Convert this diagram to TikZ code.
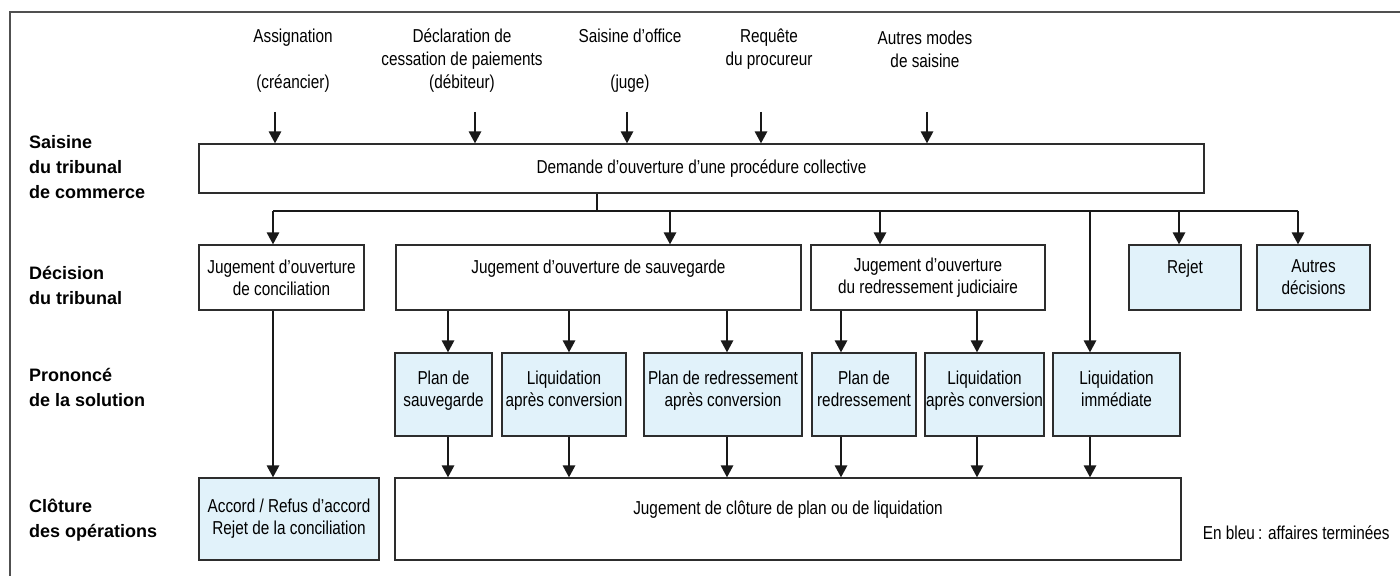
\documentclass[tikz,border=0pt]{standalone}
\usepackage{fontspec}
\setmainfont{Liberation Sans}[FakeStretch=0.82]
\newfontfamily\lblfont{Liberation Sans}
\usetikzlibrary{arrows.meta}
\definecolor{bluefill}{RGB}{225,242,250}
\definecolor{edgecol}{RGB}{45,45,45}
\definecolor{framecol}{RGB}{80,80,80}
\newcommand\lowpad{\rule[-6pt]{0pt}{0pt}}
\begin{document}
\begin{tikzpicture}[x=0.5pt,y=-0.5pt,
  font=\fontsize{9.35pt}{11pt}\selectfont,
  box/.style={draw=edgecol, line width=0.65pt, inner sep=0pt, align=center},
  dim/.style 2 args={minimum width=#1*0.5pt, minimum height=#2*0.5pt},
  bluebox/.style={box, fill=bluefill},
  ln/.style={draw=black!90, line width=0.95pt},
  arr/.style={ln, -{Triangle[width=6.2pt,length=6pt]}},
  rowlbl/.style={anchor=west, align=left, font=\lblfont\bfseries\fontsize{9pt}{12.5pt}\selectfont},
  toplbl/.style={align=center, font=\fontsize{9.35pt}{11.5pt}\selectfont}
]
\useasboundingbox (0,0) rectangle (1400,576);
% frame
\coordinate (fa) at (10,12);
\coordinate (fb) at (1400,12);
\coordinate (fc) at (10,576);
\draw[framecol, line width=1pt] (fc) -- (fa) -- (fb);

% row labels
\node[rowlbl] (l1) at (22,167) {Saisine\\du tribunal\\de commerce};
\node[rowlbl] (l2) at (22,285.5) {Décision\\du tribunal};
\node[rowlbl] (l3) at (22,387.5) {Prononcé\\de la solution};
\node[rowlbl] (l4) at (22,520) {Clôture\\des opérations};

% top labels
\node[toplbl] (s1) at (293,61) {Assignation\\\mbox{}\\(créancier)};
\node[toplbl] (s2) at (462,61) {Déclaration de\\cessation de paiements\\(débiteur)};
\node[toplbl] (s3) at (630,61) {Saisine d’office\\\mbox{}\\(juge)};
\node[toplbl] (s4) at (769,49.5) {Requête\\du procureur};
\node[toplbl] (s5) at (925,49.5) {Autres modes\\de saisine};

% boxes
\node[box, dim={1005}{49}] (dem) at (701.5,168.5) {Demande d’ouverture d’une procédure collective};

\node[box, dim={165}{65}] (concil) at (281.5,277.5) {Jugement d’ouverture\\de conciliation};
\node[box, dim={405}{65}] (sauv) at (598.5,277.5) {Jugement d’ouverture de sauvegarde\\\mbox{}};
\node[box, dim={234}{65}] (redr) at (928,277.5) {Jugement d’ouverture\\du redressement judiciaire};
\node[bluebox, dim={112}{65}] (rejet) at (1185,277.5) {Rejet\\\mbox{}};
\node[bluebox, dim={113}{65}] (autres) at (1313.5,277.5) {Autres\\décisions};

\node[bluebox, dim={97}{83}] (ps) at (443.5,394.5) {Plan de\\sauvegarde\lowpad};
\node[bluebox, dim={124}{83}] (lq1) at (564,394.5) {Liquidation\\après conversion\lowpad};
\node[bluebox, dim={158}{83}] (prac) at (723,394.5) {Plan de redressement\\après conversion\lowpad};
\node[bluebox, dim={104}{83}] (pr) at (864,394.5) {Plan de\\redressement\lowpad};
\node[bluebox, dim={119}{83}] (lq2) at (984.5,394.5) {Liquidation\\après conversion\lowpad};
\node[bluebox, dim={127}{83}] (li) at (1116.5,394.5) {Liquidation\\immédiate\lowpad};

\node[bluebox, dim={180}{82}] (accord) at (289,519) {Accord / Refus d’accord\\Rejet de la conciliation};
\node[box, dim={786}{82}] (clot) at (788,519) {Jugement de clôture de plan ou de liquidation\\\mbox{}};

\node[anchor=east, inner sep=0pt] (legend) at (1390,533) {En bleu\,: affaires terminées};

% arrows from top labels
\coordinate (t1) at (275,112);
\coordinate (t2) at (475,112);
\coordinate (t3) at (627,112);
\coordinate (t4) at (761,112);
\coordinate (t5) at (927,112);
\foreach \t in {t1,t2,t3,t4,t5} \draw[arr] (\t) -- (\t |- dem.north);

% bus
\coordinate (bus) at (597,211);
\coordinate (b1) at (273,211);
\coordinate (b2) at (670,211);
\coordinate (b3) at (880,211);
\coordinate (b4) at (1090,211);
\coordinate (b5) at (1179,211);
\coordinate (b6) at (1298,211);
\draw[ln] (dem.south -| bus) -- (bus);
\draw[ln] (b1) -- (b6);
\draw[arr] (b1) -- (b1 |- concil.north);
\draw[arr] (b2) -- (b2 |- sauv.north);
\draw[arr] (b3) -- (b3 |- redr.north);
\draw[arr] (b4) -- (b4 |- li.north);
\draw[arr] (b5) -- (b5 |- rejet.north);
\draw[arr] (b6) -- (b6 |- autres.north);

% columns
\coordinate (c0) at (273,0);
\coordinate (c1) at (448,0);
\coordinate (c2) at (569,0);
\coordinate (c3) at (727,0);
\coordinate (c4) at (841,0);
\coordinate (c5) at (977,0);
\coordinate (c6) at (1090,0);

\draw[arr] (concil.south -| c0) -- (accord.north -| c0);
\draw[arr] (sauv.south -| c1) -- (ps.north -| c1);
\draw[arr] (sauv.south -| c2) -- (lq1.north -| c2);
\draw[arr] (sauv.south -| c3) -- (prac.north -| c3);
\draw[arr] (redr.south -| c4) -- (pr.north -| c4);
\draw[arr] (redr.south -| c5) -- (lq2.north -| c5);

\draw[arr] (ps.south -| c1) -- (clot.north -| c1);
\draw[arr] (lq1.south -| c2) -- (clot.north -| c2);
\draw[arr] (prac.south -| c3) -- (clot.north -| c3);
\draw[arr] (pr.south -| c4) -- (clot.north -| c4);
\draw[arr] (lq2.south -| c5) -- (clot.north -| c5);
\draw[arr] (li.south -| c6) -- (clot.north -| c6);
\end{tikzpicture}
\end{document}
